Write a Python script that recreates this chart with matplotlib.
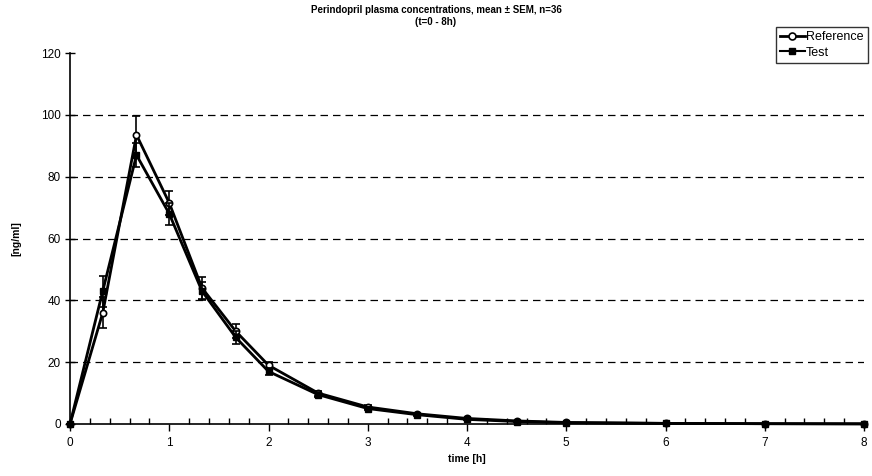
import matplotlib
matplotlib.use("Agg")
import matplotlib.pyplot as plt
from matplotlib.ticker import MultipleLocator
from matplotlib.lines import Line2D

plt.rcParams['font.family'] = ['Liberation Sans', 'DejaVu Sans']

time_h = [0, 0.33, 0.67, 1, 1.33, 1.67, 2, 2.5, 3, 3.5, 4, 4.5, 5, 6, 7, 8]
ref_mean = [0, 36, 93.5, 71.5, 44, 30, 19, 10, 5.5, 3.3, 1.8, 1.0, 0.5, 0.2, 0.1, 0.05]
ref_sem = [0, 5, 6, 4, 3.5, 2.2, 1.2, 0.8, 0.5, 0.3, 0.2, 0.1, 0.1, 0.05, 0.02, 0.02]
test_mean = [0, 43, 87, 68, 43, 28, 17, 9.5, 5.0, 3.0, 1.5, 0.8, 0.4, 0.2, 0.1, 0.05]
test_sem = [0, 5, 4, 3.5, 3, 2, 1.2, 0.7, 0.5, 0.3, 0.2, 0.1, 0.1, 0.05, 0.02, 0.02]

fig = plt.figure(figsize=(8.72, 4.76), dpi=100)
ax = fig.add_axes([70/872, 1-424/476, 794/872, (424-53)/476])

ax.errorbar(time_h, ref_mean, yerr=ref_sem, color='black', lw=2, marker='o',
            ms=4.5, mfc='white', mec='black', mew=1.2, capsize=3, elinewidth=1.2,
            capthick=1.2, zorder=3, clip_on=False)
ax.errorbar(time_h, test_mean, yerr=test_sem, color='black', lw=2, marker='s',
            ms=4.5, mfc='black', mec='black', capsize=3, elinewidth=1.2,
            capthick=1.2, zorder=4, clip_on=False)

ax.set_xlim(0, 8)
ax.set_ylim(0, 120)
ax.xaxis.set_major_locator(MultipleLocator(1))
ax.xaxis.set_minor_locator(MultipleLocator(0.2))
ax.yaxis.set_major_locator(MultipleLocator(20))

for y in [20, 40, 60, 80, 100]:
    ax.axhline(y, color='black', lw=0.9, ls=(0, (6, 4)), zorder=1)

for s in ['top', 'right']:
    ax.spines[s].set_visible(False)
for s in ['left', 'bottom']:
    ax.spines[s].set_linewidth(1.2)

ax.tick_params(axis='x', which='major', direction='out', length=5, width=1, labelsize=8.5, pad=4)
ax.tick_params(axis='x', which='minor', direction='in', length=4, width=1)
ax.tick_params(axis='y', which='major', direction='inout', length=7, width=1, labelsize=8.5, pad=3)

ax.set_xlabel('time [h]', fontsize=7.5, fontweight='bold', labelpad=4)
ax.set_ylabel('[ng/ml]', fontsize=7.5, fontweight='bold', labelpad=14)

fig.text(0.5, 1-16/476, 'Perindopril plasma concentrations, mean \u00b1 SEM, n=36\n(t=0 - 8h)',
         ha='center', va='center', fontsize=7, fontweight='bold', linespacing=1.35)

handles = [Line2D([], [], color='black', lw=2, marker='o', ms=5, mfc='white', mec='black', mew=1.2),
           Line2D([], [], color='black', lw=1.5, marker='s', ms=5, mfc='black', mec='black')]
labels = ['Reference', 'Test']
leg = fig.legend(handles, labels, loc='upper right', bbox_to_anchor=(868/872, 1-27/476),
                 fontsize=9, frameon=True, fancybox=False, edgecolor='black',
                 handlelength=2.0, handletextpad=0.1, borderpad=0.35, labelspacing=0.25,
                 borderaxespad=0)
leg.get_frame().set_linewidth(1.0)

fig.savefig('out.png', dpi=100)
